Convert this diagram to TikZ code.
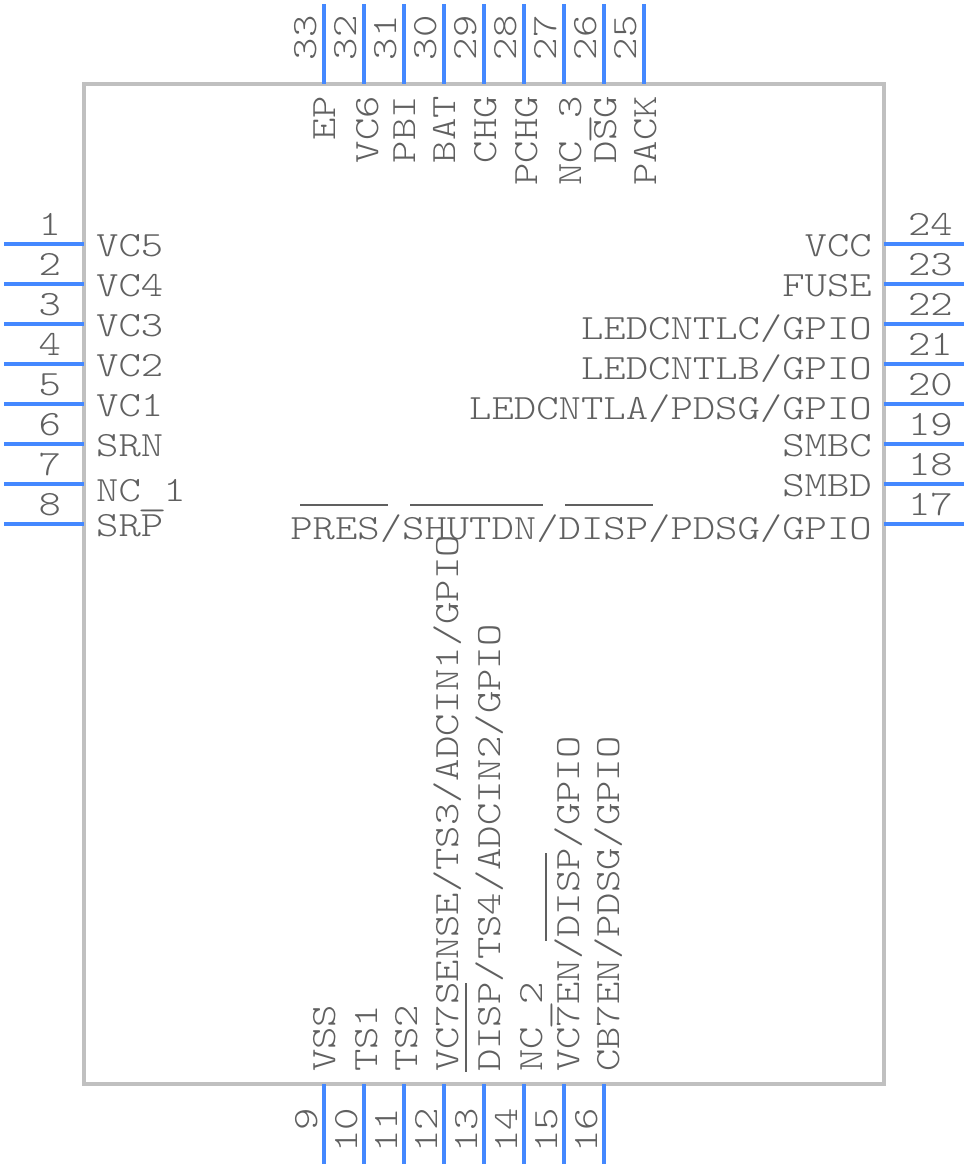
\documentclass[tikz,border=0pt]{standalone}
\usepackage{fontspec}
\setmonofont[FakeStretch=1.2]{Latin Modern Mono Light}
\definecolor{pinblue}{RGB}{68, 136, 255}
\definecolor{chipgrey}{RGB}{192, 192, 192}
\definecolor{textgrey}{RGB}{96, 96, 96}
\newcommand{\lowbar}{\makebox[22.37pt]{\raisebox{-4pt}{\scalebox{1.35}[1]{\_}}}}
\tikzset{
	pinline/.style={draw=pinblue, line width=4pt},
	chipbody/.style={draw=chipgrey, line width=4pt},
	overbar/.style={draw=textgrey, line width=2.4pt},
	pintext/.style={inner sep=0pt, text=textgrey, font=\fontsize{35.5}{40}\selectfont\ttfamily},
	leftlabel/.style={pintext, anchor=base west},
	rightlabel/.style={pintext, anchor=base east},
	uplabel/.style={pintext, rotate=90, anchor=base west},
	downlabel/.style={pintext, rotate=90, anchor=base east}
}
\begin{document}
\begin{tikzpicture}[x=1pt, y=-1pt]
	\useasboundingbox (0, 0) rectangle (968, 1168);
	\draw [chipbody] (84, 84) rectangle (884, 1084);

	% left side
	\draw [pinline] (4, 244) -- (84, 244) node[rightlabel] (num1) at (63, 235) {1};
	\draw [pinline] (4, 284) -- (84, 284) node[rightlabel] (num2) at (63, 275) {2};
	\draw [pinline] (4, 324) -- (84, 324) node[rightlabel] (num3) at (63, 315) {3};
	\draw [pinline] (4, 364) -- (84, 364) node[rightlabel] (num4) at (63, 355) {4};
	\draw [pinline] (4, 404) -- (84, 404) node[rightlabel] (num5) at (63, 395) {5};
	\draw [pinline] (4, 444) -- (84, 444) node[rightlabel] (num6) at (63, 435) {6};
	\draw [pinline] (4, 484) -- (84, 484) node[rightlabel] (num7) at (63, 475) {7};
	\draw [pinline] (4, 524) -- (84, 524) node[rightlabel] (num8) at (63, 515) {8};
	\node [leftlabel] (vcfive) at (96, 256.5) {VC5};
	\node [leftlabel] (vcfour) at (96, 296.5) {VC4};
	\node [leftlabel] (vcthree) at (96, 336.5) {VC3};
	\node [leftlabel] (vctwo) at (96, 376.5) {VC2};
	\node [leftlabel] (vcone) at (96, 416.5) {VC1};
	\node [leftlabel] (srn) at (96, 456.5) {SRN};
	\node [leftlabel] (ncone) at (96, 501) {NC\lowbar 1};
	\node [leftlabel] (srp) at (96, 536) {SRP};

	% bottom side
	\draw [pinline] (324, 1084) -- (324, 1164) node[downlabel] (num9) at (317, 1106) {9};
	\draw [pinline] (364, 1084) -- (364, 1164) node[downlabel] (num10) at (357, 1106) {10};
	\draw [pinline] (404, 1084) -- (404, 1164) node[downlabel] (num11) at (397, 1106) {11};
	\draw [pinline] (444, 1084) -- (444, 1164) node[downlabel] (num12) at (437, 1106) {12};
	\draw [pinline] (484, 1084) -- (484, 1164) node[downlabel] (num13) at (477, 1106) {13};
	\draw [pinline] (524, 1084) -- (524, 1164) node[downlabel] (num14) at (517, 1106) {14};
	\draw [pinline] (564, 1084) -- (564, 1164) node[downlabel] (num15) at (557, 1106) {15};
	\draw [pinline] (604, 1084) -- (604, 1164) node[downlabel] (num16) at (597, 1106) {16};
	\node [uplabel] (vss) at (335, 1072) {VSS};
	\node [uplabel] (tsone) at (377, 1072) {TS1};
	\node [uplabel] (tstwo) at (417, 1072) {TS2};
	\node [uplabel] (vcsense) at (458, 1072) {VC7SENSE/TS3/ADCIN1/GPIO};
	\node [uplabel] (dispts) at (500, 1072) {DISP/TS4/ADCIN2/GPIO};
	\node [uplabel] (nctwo) at (542, 1072) {NC\lowbar 2};
	\node [uplabel] (vcen) at (579, 1072) {VC7EN/DISP/GPIO};
	\node [uplabel] (cben) at (619, 1072) {CB7EN/PDSG/GPIO};
	\draw [overbar] (466, 983) -- (466, 1072);
	\draw [overbar] (546, 853) -- (546, 941);

	% right side
	\draw [pinline] (884, 524) -- (964, 524) node[leftlabel] (num17) at (906, 515) {17};
	\draw [pinline] (884, 484) -- (964, 484) node[leftlabel] (num18) at (906, 475) {18};
	\draw [pinline] (884, 444) -- (964, 444) node[leftlabel] (num19) at (906, 435) {19};
	\draw [pinline] (884, 404) -- (964, 404) node[leftlabel] (num20) at (906, 395) {20};
	\draw [pinline] (884, 364) -- (964, 364) node[leftlabel] (num21) at (906, 355) {21};
	\draw [pinline] (884, 324) -- (964, 324) node[leftlabel] (num22) at (906, 315) {22};
	\draw [pinline] (884, 284) -- (964, 284) node[leftlabel] (num23) at (906, 275) {23};
	\draw [pinline] (884, 244) -- (964, 244) node[leftlabel] (num24) at (906, 235) {24};
	\node [rightlabel] (vcc) at (872, 256.5) {VCC};
	\node [rightlabel] (fuse) at (872, 296.5) {FUSE};
	\node [rightlabel] (ledc) at (872, 339) {LEDCNTLC/GPIO};
	\node [rightlabel] (ledb) at (872, 379) {LEDCNTLB/GPIO};
	\node [rightlabel] (leda) at (872, 419) {LEDCNTLA/PDSG/GPIO};
	\node [rightlabel] (smbc) at (872, 456.5) {SMBC};
	\node [rightlabel] (smbd) at (872, 496.5) {SMBD};
	\node [rightlabel] (pres) at (872, 539) {PRES/SHUTDN/DISP/PDSG/GPIO};
	\draw [overbar] (300, 505) -- (388, 505);
	\draw [overbar] (410, 505) -- (543, 505);
	\draw [overbar] (565, 505) -- (653, 505);

	% top side
	\draw [pinline] (644, 4) -- (644, 84) node[uplabel] (num25) at (636, 62) {25};
	\draw [pinline] (604, 4) -- (604, 84) node[uplabel] (num26) at (596, 62) {26};
	\draw [pinline] (564, 4) -- (564, 84) node[uplabel] (num27) at (556, 62) {27};
	\draw [pinline] (524, 4) -- (524, 84) node[uplabel] (num28) at (516, 62) {28};
	\draw [pinline] (484, 4) -- (484, 84) node[uplabel] (num29) at (476, 62) {29};
	\draw [pinline] (444, 4) -- (444, 84) node[uplabel] (num30) at (436, 62) {30};
	\draw [pinline] (404, 4) -- (404, 84) node[uplabel] (num31) at (396, 62) {31};
	\draw [pinline] (364, 4) -- (364, 84) node[uplabel] (num32) at (356, 62) {32};
	\draw [pinline] (324, 4) -- (324, 84) node[uplabel] (num33) at (316, 62) {33};
	\node [downlabel] (pack) at (656, 96) {PACK};
	\node [downlabel] (dsg) at (616, 96) {DSG};
	\node [downlabel] (ncthree) at (581, 96) {NC\lowbar 3};
	\node [downlabel] (pchg) at (537, 96) {PCHG};
	\node [downlabel] (chg) at (496, 96) {CHG};
	\node [downlabel] (bat) at (455, 96) {BAT};
	\node [downlabel] (pbi) at (415, 96) {PBI};
	\node [downlabel] (vcsix) at (378, 96) {VC6};
	\node [downlabel] (ep) at (335, 96) {EP};
\end{tikzpicture}
\end{document}
